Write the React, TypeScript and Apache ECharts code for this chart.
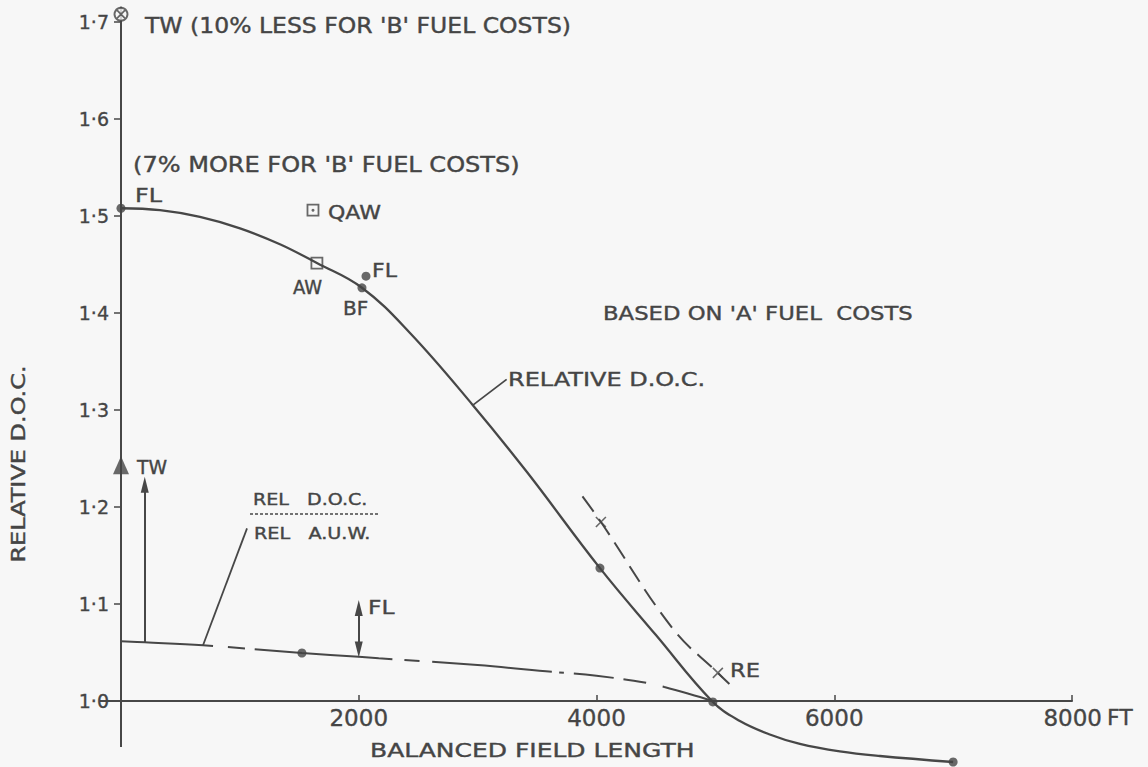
import React, { useEffect, useRef } from 'react';
import * as echarts from 'echarts';

const FONT = "'DejaVu Sans', 'Liberation Sans', sans-serif";
const INK = '#454545';
const LINE = '#474747';
const PAPER = '#f7f7f7';

// ---- axes ----
const xTicks = [2000, 4000, 6000, 8000];
const yTicks = [1.0, 1.1, 1.2, 1.3, 1.4, 1.5, 1.6, 1.7];

// ---- Relative D.O.C. curve (balanced field length ft, relative DOC) ----
const docX = [0, 328, 664, 1001, 1337, 1648, 2027, 2431, 2960, 3415, 4029, 4500, 4979, 5206, 5458, 5711, 6047, 6384, 7000];
const docY = [1.508, 1.506, 1.4991, 1.4873, 1.4709, 1.4515, 1.426, 1.3794, 1.305, 1.236, 1.137, 1.068, 0.999, 0.9794, 0.9655, 0.9557, 0.948, 0.9433, 0.9371];

// ---- REL D.O.C. / REL A.U.W. curve ----
const ratioX = [0, 200, 690, 1522, 2000, 2168, 3000, 3630, 4000, 4429, 4571, 4782, 4979];
const ratioY = [1.0615, 1.0605, 1.0575, 1.0495, 1.0455, 1.044, 1.037, 1.03, 1.026, 1.0186, 1.0144, 1.0072, 1.0];

// ---- RE dashed curve ----
const reX = [3882, 4037, 4639, 5021, 5118];
const reY = [1.211, 1.1845, 1.075, 1.029, 1.0175];

// ---- marked points ----
const dotPts = [[0, 1.508], [2027, 1.426], [2061, 1.438], [1522, 1.0495], [4029, 1.137], [4979, 0.999], [7000, 0.9371]];
const squarePts = [[1615, 1.506], [1648, 1.4515]];
const qawCentre = [[1615, 1.506]];
const crossPts = [[4037, 1.1845], [5021, 1.029]];
const twTriangle = [[0, 1.243]];
const twCircle = [[0, 1.708]];

// ---- arrows and leader lines ----
const twArrow = [[200, 1.0605], [200, 1.223]];
const flArrow = [[2000, 1.053], [2000, 1.096]];
const docLeader = [[2960, 1.305], [3244, 1.3316]];
const ratioLeader = [[690, 1.0575], [1060, 1.178]];

const zip = (xs: number[], ys: number[]) => xs.map((x, i) => [x, ys[i]]);

function label(text: string, x: number, y: number, size: number, sx: number, align = 'left', rotation = 0) {
  return {
    type: 'text',
    x,
    y,
    scaleX: sx,
    rotation,
    silent: true,
    style: {
      text,
      fill: INK,
      stroke: INK,
      lineWidth: 0.4,
      fontSize: size,
      fontFamily: FONT,
      align,
      textAlign: align,
      verticalAlign: 'middle',
      textVerticalAlign: 'middle',
    },
  };
}

function buildOption() {
  const noEmph = { disabled: true };
  return {
    animation: false,
    backgroundColor: PAPER,
    textStyle: { fontFamily: FONT, color: INK },
    grid: { left: 121, right: 76, top: 7.45, bottom: 66, containLabel: false, outerBoundsMode: 'none' },
    xAxis: {
      type: 'value',
      min: 0,
      max: 8000,
      axisLine: { show: true, lineStyle: { color: LINE, width: 2 } },
      axisTick: { show: true, inside: true, length: 6, customValues: xTicks, lineStyle: { color: LINE, width: 1.5 } },
      axisLabel: {
        customValues: xTicks,
        fontSize: 23,
        fontFamily: FONT,
        color: INK,
        textBorderColor: INK,
        textBorderWidth: 0.35,
        margin: 5,
        formatter: (v: number) => (v === 8000 ? '{pad| }8000{ft|FT}' : String(v)),
        rich: {
          pad: { width: 32, fontSize: 23 },
          ft: { fontSize: 22, padding: [0, 0, 0, 5], fontFamily: FONT, color: INK, textBorderColor: INK, textBorderWidth: 0.35 },
        },
      },
      splitLine: { show: false },
    },
    yAxis: {
      type: 'value',
      min: 1.0,
      max: 1.715,
      axisLine: { show: true, lineStyle: { color: LINE, width: 2 } },
      axisTick: { show: true, inside: false, length: 7, customValues: yTicks, lineStyle: { color: LINE, width: 1.5 } },
      axisLabel: {
        customValues: yTicks,
        fontSize: 19,
        fontFamily: FONT,
        color: INK,
        textBorderColor: INK,
        textBorderWidth: 0.35,
        margin: 12,
        formatter: (v: number) => v.toFixed(1).replace('.', '\u00b7'),
      },
      splitLine: { show: false },
    },
    graphic: [
      { type: 'line', silent: true, shape: { x1: 121, y1: 701, x2: 121, y2: 747 }, style: { stroke: LINE, lineWidth: 2 } },
      { type: 'line', silent: true, shape: { x1: 100, y1: 701, x2: 121, y2: 701 }, style: { stroke: LINE, lineWidth: 2 } },
      { type: 'line', silent: true, shape: { x1: 250, y1: 514, x2: 378, y2: 514 }, style: { stroke: LINE, lineWidth: 1.5, lineDash: [3, 2] } },
      label("TW (10% LESS FOR 'B' FUEL COSTS)", 145, 25, 21, 1.12),
      label("(7% MORE FOR 'B' FUEL COSTS)", 133, 165, 21, 1.145),
      label('FL', 135, 195, 20, 1.19),
      label('QAW', 328, 212, 20, 1.1),
      label('AW', 293, 287, 19, 0.95),
      label('FL', 372, 270, 20, 1.1),
      label('BF', 343, 308, 20, 1.0),
      label("BASED ON 'A' FUEL  COSTS", 603, 313, 20, 1.137),
      label('RELATIVE D.O.C.', 508, 379, 20, 1.2),
      label('TW', 137, 467, 20, 0.94),
      label('REL   D.O.C.', 253, 500, 16, 1.19),
      label('REL   A.U.W.', 254, 534, 16, 1.2),
      label('FL', 368, 607, 20, 1.17),
      label('RE', 730, 670, 20, 1.13),
      label('BALANCED FIELD LENGTH', 370, 750, 20, 1.25),
      label('RELATIVE D.O.C.', 18, 464, 20, 1.2, 'center', Math.PI / 2),
    ],
    series: [
      {
        name: 'Relative D.O.C.',
        type: 'line',
        data: zip(docX, docY),
        smooth: 0.4,
        showSymbol: false,
        symbol: 'none',
        clip: false,
        lineStyle: { color: LINE, width: 2.3 },
        emphasis: noEmph,
        z: 3,
      },
      {
        name: 'REL D.O.C. / REL A.U.W.',
        type: 'line',
        data: zip(ratioX, ratioY),
        smooth: 0.4,
        symbol: 'none',
        clip: false,
        lineStyle: { color: LINE, width: 2, type: [92, 15, 17, 10, 138, 12, 15, 13, 120, 7, 5, 10, 40, 10, 23, 17, 200] },
        emphasis: noEmph,
        markLine: {
          silent: true,
          symbol: ['none', 'triangle'],
          symbolSize: [8, 16],
          label: { show: false },
          lineStyle: { color: LINE, width: 2, type: 'solid' },
          itemStyle: { color: LINE },
          emphasis: noEmph,
          data: [
            [{ coord: twArrow[0] }, { coord: twArrow[1] }],
            [{ coord: flArrow[0], symbol: 'triangle' }, { coord: flArrow[1] }],
          ],
        },
        z: 3,
      },
      {
        name: 'RE',
        type: 'line',
        data: zip(reX, reY),
        smooth: 0.4,
        symbol: 'none',
        clip: false,
        lineStyle: { color: LINE, width: 2, type: [19, 9] },
        emphasis: noEmph,
        z: 3,
      },
      {
        name: 'leader doc',
        type: 'line',
        data: docLeader,
        symbol: 'none',
        clip: false,
        lineStyle: { color: LINE, width: 1.8 },
        emphasis: noEmph,
      },
      {
        name: 'leader ratio',
        type: 'line',
        data: ratioLeader,
        symbol: 'none',
        clip: false,
        lineStyle: { color: LINE, width: 1.8 },
        emphasis: noEmph,
      },
      {
        name: 'points',
        type: 'scatter',
        data: dotPts,
        symbol: 'circle',
        symbolSize: 9,
        clip: false,
        itemStyle: { color: '#444' },
        emphasis: noEmph,
        z: 5,
      },
      {
        name: 'squares',
        type: 'scatter',
        data: squarePts,
        symbol: 'rect',
        symbolSize: 11,
        clip: false,
        itemStyle: { color: 'rgba(0,0,0,0)', borderColor: '#444', borderWidth: 1.8 },
        emphasis: noEmph,
        z: 5,
      },
      {
        name: 'qaw centre',
        type: 'scatter',
        data: qawCentre,
        symbol: 'circle',
        symbolSize: 3,
        clip: false,
        itemStyle: { color: '#444' },
        emphasis: noEmph,
        z: 5,
      },
      {
        name: 'crosses',
        type: 'scatter',
        data: crossPts,
        symbol: 'path://M0 0L10 10M10 0L0 10',
        symbolSize: 10,
        clip: false,
        itemStyle: { color: 'none', borderColor: '#444', borderWidth: 1.6 },
        emphasis: noEmph,
        z: 5,
      },
      {
        name: 'TW triangle',
        type: 'scatter',
        data: twTriangle,
        symbol: 'triangle',
        symbolSize: [16, 18],
        clip: false,
        itemStyle: { color: '#444' },
        emphasis: noEmph,
        z: 5,
      },
      {
        name: 'TW circle',
        type: 'scatter',
        data: twCircle,
        symbol: 'path://M10 0A10 10 0 1 1 9.99 0ZM3 3L17 17M17 3L3 17',
        symbolSize: 13,
        clip: false,
        itemStyle: { color: PAPER, borderColor: '#444', borderWidth: 1.8 },
        emphasis: noEmph,
        z: 6,
      },
    ],
  };
}

export default function App() {
  const ref = useRef<HTMLDivElement>(null);
  useEffect(() => {
    if (!ref.current) return;
    const chart = echarts.init(ref.current, null, { renderer: 'svg' });
    chart.setOption(buildOption() as any);
    return () => chart.dispose();
  }, []);
  return (
    <div
      ref={ref}
      style={{ position: 'fixed', left: 0, top: 0, width: 1148, height: 767, background: PAPER }}
    />
  );
}
